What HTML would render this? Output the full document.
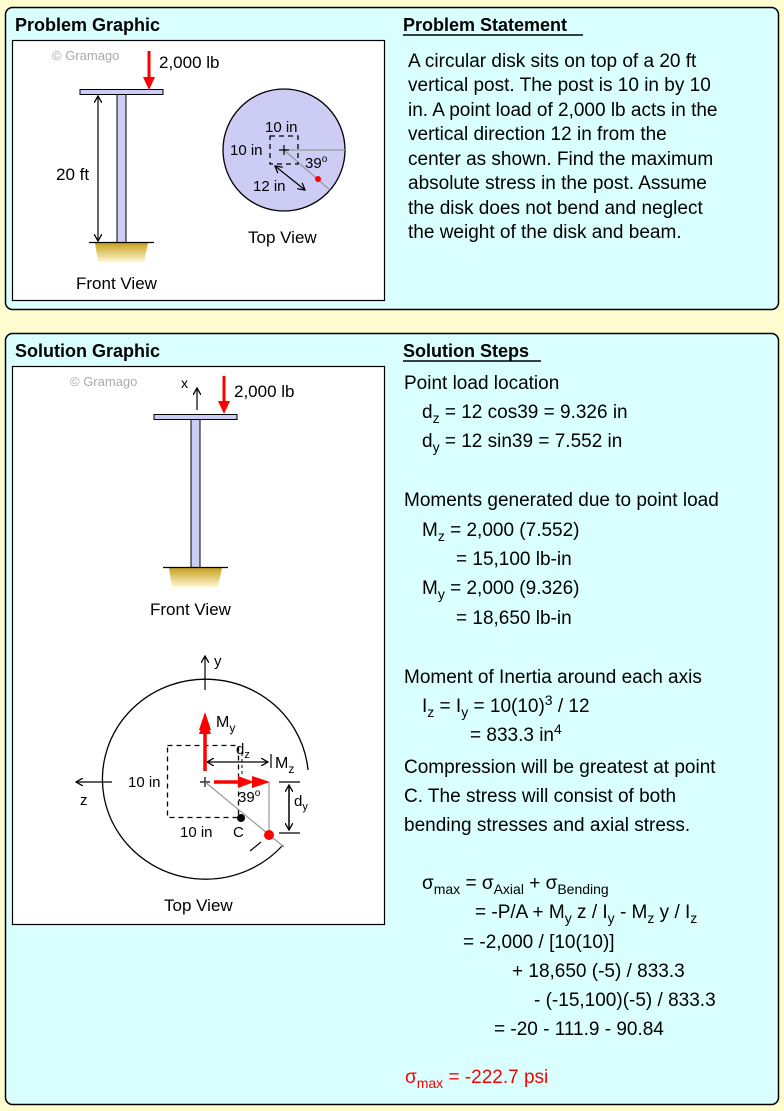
<!DOCTYPE html>
<html><head><meta charset="utf-8"><style>
html,body{margin:0;padding:0;background:#fffdd0;}
svg{display:block;font-family:"Liberation Sans",Arial,sans-serif;}
</style></head><body>
<svg width="784" height="1111" viewBox="0 0 784 1111" xmlns="http://www.w3.org/2000/svg">
<defs>
<marker id="ak" markerWidth="8" markerHeight="8" refX="7" refY="4" orient="auto-start-reverse" markerUnits="userSpaceOnUse"><path d="M0,0 L7,4 L0,8" fill="none" stroke="#000" stroke-width="1.3"/></marker>
<linearGradient id="gnd" x1="0" y1="0" x2="0" y2="1"><stop offset="0" stop-color="#c8a020"/><stop offset="1" stop-color="#fff8d0"/></linearGradient>
</defs>
<rect width="784" height="1111" fill="#fffdd0"/>
<!-- panel 1 -->
<rect x="5.5" y="7.5" width="773" height="302" rx="7" fill="#d9ffff" stroke="#000" stroke-width="1.5"/>
<text x="15" y="31" font-size="18" font-weight="bold">Problem Graphic</text>
<text x="403" y="31" font-size="18" font-weight="bold">Problem Statement</text>
<line x1="403" y1="35" x2="583" y2="35" stroke="#000" stroke-width="1.5"/>
<rect x="12.5" y="40.5" width="372" height="260" fill="#fff" stroke="#000" stroke-width="1.2"/>
<text x="52" y="60" font-size="13" fill="#aaa">© Gramago</text>
<line x1="149" y1="51" x2="149" y2="78" stroke="#f00" stroke-width="3"/>
<polygon points="143,77 155,77 149,90" fill="#f00"/>
<text x="159" y="68" font-size="17">2,000 lb</text>
<rect x="80" y="89.5" width="83" height="5" fill="#ccccf5" stroke="#000"/>
<rect x="117" y="94.5" width="9" height="148" fill="#ccccf5" stroke="#000"/>
<polygon points="95,243 148,243 144,262 98,262" fill="url(#gnd)"/>
<line x1="89" y1="242.5" x2="154" y2="242.5" stroke="#000" stroke-width="1.3"/>
<line x1="98" y1="96" x2="98" y2="241" stroke="#000" stroke-width="1.2" marker-start="url(#ak)" marker-end="url(#ak)"/>
<text x="56" y="180" font-size="17">20 ft</text>
<text x="76" y="289" font-size="17">Front View</text>
<circle cx="284" cy="150" r="61" fill="#ccccf5" stroke="#000" stroke-width="1.3"/>
<line x1="284" y1="150" x2="345" y2="150" stroke="#999" stroke-width="1.2"/>
<line x1="284" y1="150" x2="330" y2="190" stroke="#999" stroke-width="1.2"/>
<rect x="270" y="136" width="28" height="28" fill="none" stroke="#000" stroke-width="1.3" stroke-dasharray="5,4"/>
<path d="M279,150h10M284,145v10" stroke="#000" stroke-width="1.2"/>
<circle cx="318" cy="179" r="3" fill="#f00"/>
<line x1="275" y1="166" x2="305" y2="190" stroke="#000" stroke-width="1.2" marker-start="url(#ak)" marker-end="url(#ak)"/>
<text x="265" y="132" font-size="15">10 in</text>
<text x="230" y="155" font-size="15">10 in</text>
<text x="305" y="168" font-size="15">39<tspan font-size="10" dy="-6">o</tspan></text>
<text x="253" y="191" font-size="15">12 in</text>
<text x="248" y="243" font-size="17">Top View</text>
<g font-size="19">
<text x="408" y="67">A circular disk sits on top of a 20 ft</text>
<text x="408" y="91">vertical post. The post is 10 in by 10</text>
<text x="408" y="116">in. A point load of 2,000 lb acts in the</text>
<text x="408" y="140">vertical direction 12 in from the</text>
<text x="408" y="165">center as shown. Find the maximum</text>
<text x="408" y="189">absolute stress in the post. Assume</text>
<text x="408" y="214">the disk does not bend and neglect</text>
<text x="408" y="238">the weight of the disk and beam.</text>
</g>
<!-- panel 2 -->
<rect x="5.5" y="333.5" width="773" height="771" rx="7" fill="#d9ffff" stroke="#000" stroke-width="1.5"/>
<text x="15" y="357" font-size="18" font-weight="bold">Solution Graphic</text>
<text x="403" y="357" font-size="18" font-weight="bold">Solution Steps</text>
<line x1="403" y1="361" x2="541" y2="361" stroke="#000" stroke-width="1.5"/>
<rect x="12.5" y="366.5" width="372" height="558" fill="#fff" stroke="#000" stroke-width="1.2"/>
<text x="70" y="386" font-size="13" fill="#aaa">© Gramago</text>
<line x1="197" y1="410" x2="197" y2="388" stroke="#000" stroke-width="1.2" marker-end="url(#ak)"/>
<text x="181" y="388" font-size="14">x</text>
<line x1="224" y1="376" x2="224" y2="402" stroke="#f00" stroke-width="3"/>
<polygon points="218,401 230,401 224,414" fill="#f00"/>
<text x="234" y="397" font-size="17">2,000 lb</text>
<rect x="154" y="414.5" width="83" height="5" fill="#ccccf5" stroke="#000"/>
<rect x="191" y="419.5" width="9" height="148" fill="#ccccf5" stroke="#000"/>
<polygon points="169,568 222,568 218,587 172,587" fill="url(#gnd)"/>
<line x1="163" y1="567.5" x2="228" y2="567.5" stroke="#000" stroke-width="1.3"/>
<text x="150" y="615" font-size="17">Front View</text>
<!-- top view solution -->
<path d="M308,770 A103,100 0 1 0 283,845" fill="none" stroke="#000" stroke-width="1.3"/>
<line x1="205" y1="690" x2="205" y2="656" stroke="#000" stroke-width="1.2" marker-end="url(#ak)"/>
<text x="214" y="666" font-size="15">y</text>
<line x1="112" y1="782" x2="76" y2="782" stroke="#000" stroke-width="1.2" marker-end="url(#ak)"/>
<text x="80" y="805" font-size="15">z</text>
<rect x="167.5" y="745.5" width="71" height="72" fill="none" stroke="#000" stroke-width="1.3" stroke-dasharray="5,4"/>
<path d="M200,782h10M205,777v10" stroke="#000" stroke-width="1.2"/>
<line x1="205" y1="782" x2="284" y2="847" stroke="#999" stroke-width="1.2"/>
<line x1="269" y1="782" x2="269" y2="834" stroke="#999" stroke-width="1.2"/>
<line x1="207" y1="762" x2="268" y2="762" stroke="#000" stroke-width="1.2" marker-start="url(#ak)" marker-end="url(#ak)"/>
<line x1="271" y1="754" x2="271" y2="768" stroke="#000" stroke-width="1.2"/>
<line x1="242" y1="753" x2="242" y2="775" stroke="#000" stroke-width="1" stroke-dasharray="3,3"/>
<text x="236" y="754" font-size="15">d<tspan font-size="11" dy="4">z</tspan></text>
<text x="275" y="768" font-size="16">M<tspan font-size="12" dy="5">z</tspan></text>
<line x1="205" y1="771" x2="205" y2="732" stroke="#f00" stroke-width="3.5"/>
<polygon points="199,734 211,734 205,718" fill="#f00"/>
<polygon points="199,730 211,730 205,712" fill="#f00"/>
<text x="216" y="727" font-size="16">M<tspan font-size="12" dy="5">y</tspan></text>
<line x1="214" y1="782" x2="240" y2="782" stroke="#f00" stroke-width="3.5"/>
<polygon points="238,776 238,788 254,782" fill="#f00"/>
<polygon points="252,776 252,788 270,782" fill="#f00"/>
<line x1="279" y1="782" x2="300" y2="782" stroke="#000" stroke-width="1.2"/>
<line x1="279" y1="833" x2="300" y2="833" stroke="#000" stroke-width="1.2"/>
<line x1="289" y1="785" x2="289" y2="830" stroke="#000" stroke-width="1.5" marker-start="url(#ak)" marker-end="url(#ak)"/>
<text x="294" y="806" font-size="15">d<tspan font-size="11" dy="4">y</tspan></text>
<text x="238" y="802" font-size="15">39<tspan font-size="10" dy="-6">o</tspan></text>
<circle cx="241" cy="818" r="4" fill="#000"/>
<circle cx="269" cy="835" r="5" fill="#f00"/>
<line x1="250" y1="851" x2="261" y2="842" stroke="#000" stroke-width="1.2"/>
<text x="128" y="787" font-size="15">10 in</text>
<text x="180" y="837" font-size="15">10 in</text>
<text x="233" y="837" font-size="15">C</text>
<text x="164" y="911" font-size="17">Top View</text>
<!-- solution steps -->
<g font-size="19">
<text x="404" y="389">Point load location</text>
<text x="422" y="418">d<tspan font-size="14" dy="5">z</tspan><tspan dy="-5"> = 12 cos39 = 9.326 in</tspan></text>
<text x="422" y="447">d<tspan font-size="14" dy="5">y</tspan><tspan dy="-5"> = 12 sin39 = 7.552 in</tspan></text>
<text x="404" y="506">Moments generated due to point load</text>
<text x="422" y="536">M<tspan font-size="14" dy="5">z</tspan><tspan dy="-5"> = 2,000 (7.552)</tspan></text>
<text x="456" y="565">= 15,100 lb-in</text>
<text x="422" y="594">M<tspan font-size="14" dy="5">y</tspan><tspan dy="-5"> = 2,000 (9.326)</tspan></text>
<text x="456" y="624">= 18,650 lb-in</text>
<text x="404" y="683">Moment of Inertia around each axis</text>
<text x="422" y="712">I<tspan font-size="14" dy="5">z</tspan><tspan dy="-5"> = I</tspan><tspan font-size="14" dy="5">y</tspan><tspan dy="-5"> = 10(10)</tspan><tspan font-size="14" dy="-7">3</tspan><tspan dy="7"> / 12</tspan></text>
<text x="470" y="741">= 833.3 in<tspan font-size="14" dy="-7">4</tspan></text>
<text x="404" y="773">Compression will be greatest at point</text>
<text x="404" y="802">C. The stress will consist of both</text>
<text x="404" y="831">bending stresses and axial stress.</text>
<text x="422" y="889">σ<tspan font-size="14" dy="5">max</tspan><tspan dy="-5"> = σ</tspan><tspan font-size="14" dy="5">Axial</tspan><tspan dy="-5"> + σ</tspan><tspan font-size="14" dy="5">Bending</tspan></text>
<text x="475" y="918">= -P/A + M<tspan font-size="14" dy="5">y</tspan><tspan dy="-5"> z / I</tspan><tspan font-size="14" dy="5">y</tspan><tspan dy="-5"> - M</tspan><tspan font-size="14" dy="5">z</tspan><tspan dy="-5"> y / I</tspan><tspan font-size="14" dy="5">z</tspan></text>
<text x="463" y="948">= -2,000 / [10(10)]</text>
<text x="512" y="977">+ 18,650 (-5) / 833.3</text>
<text x="534" y="1006">- (-15,100)(-5) / 833.3</text>
<text x="494" y="1035">= -20 - 111.9 - 90.84</text>
<text x="405" y="1083" fill="#f00">σ<tspan font-size="14" dy="5">max</tspan><tspan dy="-5"> = -222.7 psi</tspan></text>
</g>
</svg>
</body></html>
